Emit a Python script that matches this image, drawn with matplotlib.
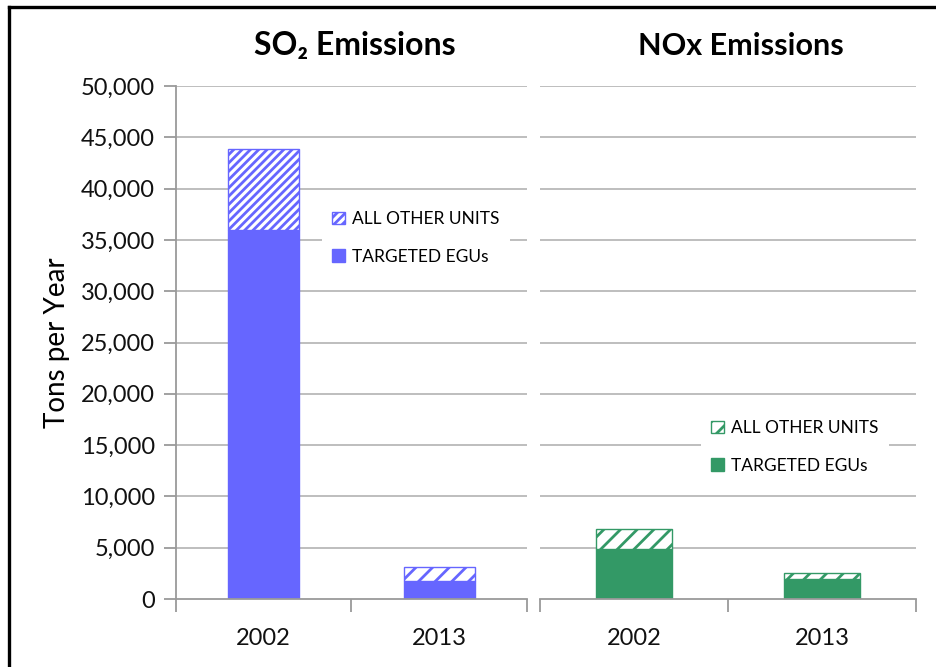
import matplotlib
matplotlib.use('Agg')
import matplotlib.pyplot as plt
from matplotlib.patches import Patch
from matplotlib.lines import Line2D
from matplotlib.ticker import FuncFormatter, FixedLocator

# ---- data ----
years = ['2002', '2013']
so2_targeted = [36000, 1750]
so2_other = [7900, 1370]
nox_targeted = [4850, 1950]
nox_other = [2000, 610]
yticks = list(range(0, 50001, 5000))
panel_titles = ['SO\u2082 Emissions', 'NOx Emissions']
legend_labels = ['ALL OTHER UNITS', 'TARGETED EGUs']
ylabel = 'Tons per Year'

BLUE = '#6666FF'
GREEN = '#339966'
GRID = '#BEBEBE'
FONT = ['Lato', 'DejaVu Sans']

plt.rcParams['font.family'] = FONT
plt.rcParams['hatch.linewidth'] = 2.0

W, H = 937, 667
fig = plt.figure(figsize=(W / 100, H / 100), dpi=100)

def fx(px):
    return px / W

def fy(py):
    return 1 - py / H

axL = fig.add_axes([fx(176), fy(599), fx(527) - fx(176), fy(86) - fy(599)])
axR = fig.add_axes([fx(540), fy(599), fx(916) - fx(540), fy(86) - fy(599)])

def draw(ax, targeted, other, color, hatches, width):
    x = list(range(len(years)))
    ax.bar(x, targeted, width=width, color=color, edgecolor=color, linewidth=1, zorder=3)
    for i in x:
        ax.bar([i], [other[i]], bottom=[targeted[i]], width=width, facecolor='white',
               edgecolor=color, hatch=hatches[i], linewidth=1, zorder=3)
    ax.set_xlim(-0.5, len(years) - 0.5)
    ax.set_ylim(0, 50000)
    ax.set_xticks(x)
    ax.set_xticklabels(years, fontsize=17, color='#111111')
    ax.xaxis.set_minor_locator(FixedLocator([-0.5, 0.5, 1.5]))
    ax.tick_params(axis='x', which='major', length=0, pad=21)
    ax.tick_params(axis='x', which='minor', length=9, width=1.3, color='#9a9a9a', direction='out')
    ax.set_yticks(yticks)
    for yv in yticks[1:]:
        ax.axhline(yv, color=GRID, lw=1.4, zorder=1)
    for s in ['top', 'right']:
        ax.spines[s].set_visible(False)
    ax.spines['bottom'].set_color('#9a9a9a')
    ax.spines['bottom'].set_linewidth(1.3)
    ax.spines['bottom'].set_zorder(4)

draw(axL, so2_targeted, so2_other, BLUE, ['////', '//'], 0.405)
draw(axR, nox_targeted, nox_other, GREEN, ['//', '//'], 0.405)

axL.yaxis.set_major_formatter(FuncFormatter(lambda v, p: f'{int(v):,}'))
axL.tick_params(axis='y', length=9, width=1.3, color='#9a9a9a', labelsize=17, pad=6,
                labelcolor='#111111')
axL.spines['left'].set_color('#9a9a9a')
axL.spines['left'].set_linewidth(1.3)
axL.set_ylabel(ylabel, fontsize=20, labelpad=8)

axR.spines['left'].set_visible(False)
axR.tick_params(axis='y', length=0, labelleft=False)

axL.set_title(panel_titles[0], fontsize=23, fontweight='bold', pad=22, x=0.51)
axR.set_title(panel_titles[1], fontsize=22, fontweight='bold', pad=22, x=0.535)

def add_legend(ax, color, hatch, anchor):
    handles = [Patch(facecolor='white', edgecolor=color, hatch=hatch, linewidth=1),
               Patch(facecolor=color, edgecolor=color, linewidth=1)]
    leg = ax.legend(handles, legend_labels, loc='upper left', bbox_to_anchor=anchor,
                    bbox_transform=fig.transFigure, frameon=True, framealpha=1,
                    edgecolor='none', facecolor='white', fancybox=False,
                    fontsize=12.5, handlelength=0.75, handleheight=0.75,
                    handletextpad=0.4, labelspacing=1.25, borderpad=0.6)
    leg.set_zorder(5)
    return leg

add_legend(axL, BLUE, '////', (fx(313), fy(192)))
add_legend(axR, GREEN, '//', (fx(692), fy(401)))

# outer frame (left and top visible)
fig.add_artist(Line2D([fx(9), fx(9)], [0, fy(7)], color='black', lw=2.4,
                      transform=fig.transFigure))
fig.add_artist(Line2D([fx(9), 1], [fy(7), fy(7)], color='black', lw=2.4,
                      transform=fig.transFigure))

fig.savefig('out.png', dpi=100)
